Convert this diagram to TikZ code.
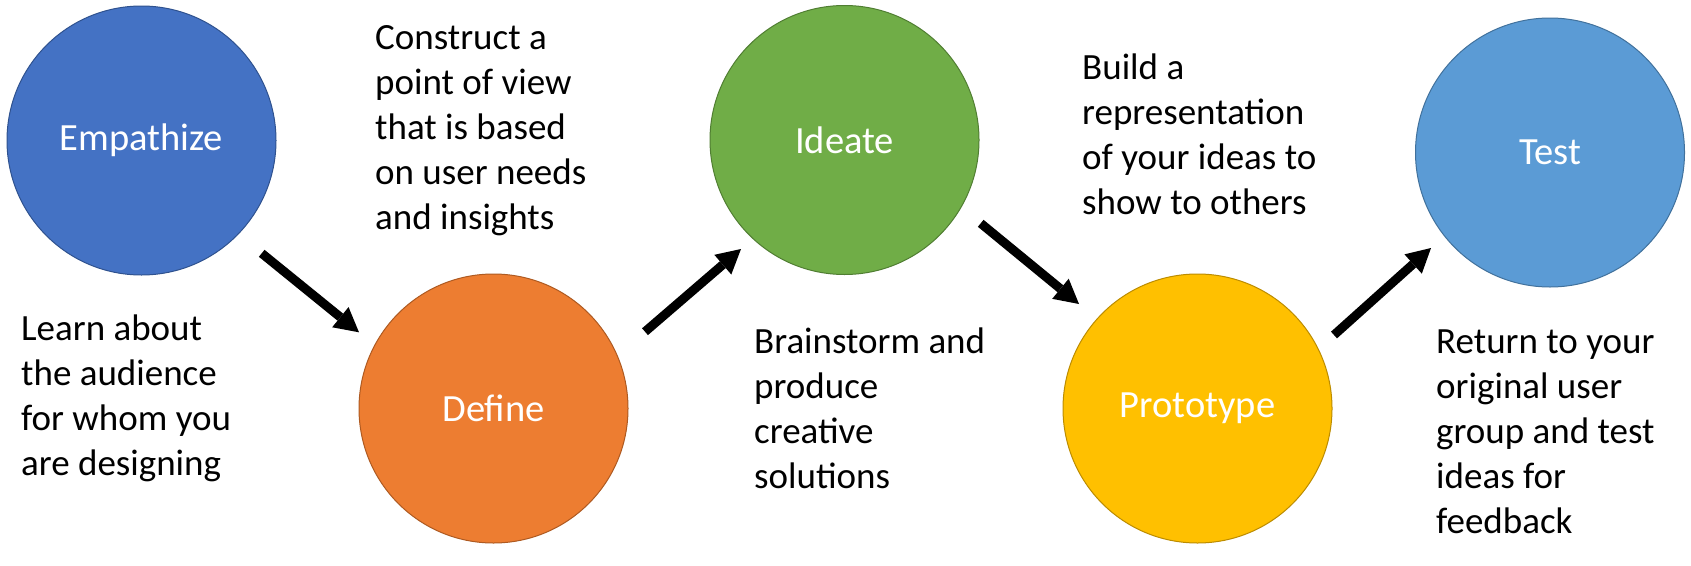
\documentclass[tikz,border=0pt]{standalone}
\usepackage{fontspec}
\setmainfont{Carlito}
\usetikzlibrary{arrows.meta}
\definecolor{cE}{HTML}{4472C4}\definecolor{bE}{HTML}{2F528F}
\definecolor{cD}{HTML}{ED7D31}\definecolor{bD}{HTML}{AE5A21}
\definecolor{cI}{HTML}{70AD47}\definecolor{bI}{HTML}{507E32}
\definecolor{cP}{HTML}{FFC000}\definecolor{bP}{HTML}{BC8C00}
\definecolor{cT}{HTML}{5B9BD5}\definecolor{bT}{HTML}{41719C}
\tikzset{
  stage/.style={circle, minimum size=269pt, inner sep=0pt, line width=1pt, text=white,
    font=\fontsize{38.5}{46}\selectfont},
  desc/.style={anchor=north west, inner sep=0pt, align=left, text=black,
    font=\fontsize{37}{45}\selectfont},
  flow/.style={line width=9pt, -{Triangle[length=24pt,width=26pt,line width=0pt]}}
}
\newcommand{\fl}{\rule{0pt}{30pt}}
\begin{document}
\begin{tikzpicture}[x=1pt,y=-1pt]
\path[use as bounding box, fill=white] (0,0) rectangle (1691,565);
\node[stage, fill=cE, draw=bE] (E) at (141.5,140.5) {Empathize};
\node[stage, fill=cD, draw=bD] (D) at (493.5,408.5) {Define};
\node[stage, fill=cI, draw=bI] (I) at (844.5,140) {Ideate};
\node[stage, fill=cP, draw=bP] (P) at (1197.5,408.5) {Prototype};
\node[stage, fill=cT, draw=bT] (T) at (1550,152.5) {Test};

\node[desc] (tE) at (21,310) {\fl Learn about\\the audience\\for whom you\\are designing};
\node[desc] (tD) at (375,19) {\fl Construct a\\point of view\\that is based\\on user needs\\and insights};
\node[desc] (tI) at (754,323) {\fl Brainstorm and\\produce\\creative\\solutions};
\node[desc] (tP) at (1082,49) {\fl Build a\\representation\\of your ideas to\\show to others};
\node[desc] (tT) at (1436,323) {\fl Return to your\\original user\\group and test\\ideas for\\feedback};

\coordinate (a1s) at (261.7,253.3); \coordinate (a1e) at (359,332.3);
\coordinate (a2s) at (645,331.7);   \coordinate (a2e) at (741,249);
\coordinate (a3s) at (980.7,223.3); \coordinate (a3e) at (1079,304);
\coordinate (a4s) at (1334,335);    \coordinate (a4e) at (1431,248);
\draw[flow] (a1s) -- (a1e);
\draw[flow] (a2s) -- (a2e);
\draw[flow] (a3s) -- (a3e);
\draw[flow] (a4s) -- (a4e);
\end{tikzpicture}
\end{document}
